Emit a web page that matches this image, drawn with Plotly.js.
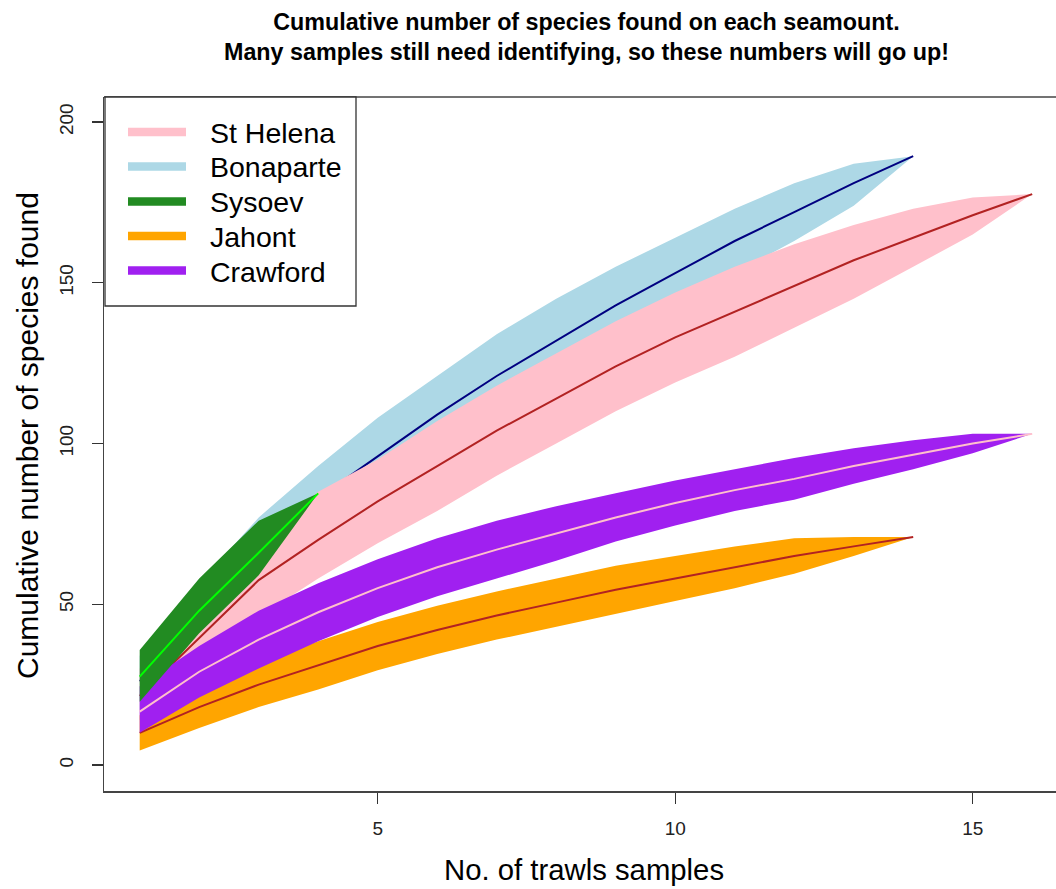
<!DOCTYPE html>
<html>
<head>
<meta charset="utf-8">
<script src="https://cdn.plot.ly/plotly-3.0.1.min.js"></script>
<style>html,body{margin:0;padding:0;background:#fff;}#chart{width:1056px;height:889px;}</style>
</head>
<body>
<div id="chart"></div>
<script>
// ---- data ----
const seamounts = ["St Helena", "Bonaparte", "Sysoev", "Jahont", "Crawford"];

const shX     = [1,2,3,4,5,6,7,8,9,10,11,12,13,14,15,16];
const shMean  = [21.5, 39.5, 57.5, 70, 82, 93, 104, 114, 124, 133, 141, 149, 157, 164, 171, 177.6];
const shUpper = [30, 50, 69, 85, 95, 107, 118, 128, 138, 147, 155, 162, 168, 173, 176.5, 177.6];
const shLower = [14, 30, 46, 58, 69, 79, 90, 100, 110, 119, 127, 136, 145, 155, 165, 177.6];

const boX     = [1,2,3,4,5,6,7,8,9,10,11,12,13,14];
const boMean  = [26, 50, 68, 83, 96, 109, 121, 132, 143, 153, 163, 172, 181, 189.4];
const boUpper = [34, 56.5, 77, 93, 108, 121, 134, 145, 155, 164, 173, 181, 187, 189.4];
const boLower = [17, 40, 58, 73, 84, 97, 108, 119, 131, 142, 153, 163, 174, 189.4];

const syX     = [1,2,3,4];
const syMean  = [27.5, 48, 66, 84.5];
const syUpper = [35.8, 58, 76, 84.5];
const syLower = [19.7, 41, 59, 84.5];

const jaX     = [1,2,3,4,5,6,7,8,9,10,11,12,13,14];
const jaMean  = [10, 18, 25, 31, 37, 42, 46.5, 50.5, 54.5, 58, 61.5, 65, 68, 70.9];
const jaUpper = [15.5, 24.5, 32, 38.5, 44.5, 49.5, 54, 58, 62, 65, 68, 70.5, 70.9, 70.9];
const jaLower = [4.5, 11.5, 18, 23.5, 29.5, 34.5, 39, 43, 47, 51, 55, 59.5, 65, 70.9];

const crX     = [1,2,3,4,5,6,7,8,9,10,11,12,13,14,15,16];
const crMean  = [16.6, 29, 39, 47.5, 55, 61.5, 67, 72, 77, 81.5, 85.5, 89, 93, 96.5, 100, 103];
const crUpper = [24.5, 37, 48, 56.5, 64, 70.5, 76, 80.5, 84.5, 88.5, 92, 95.5, 98.5, 101, 103, 103];
const crLower = [10, 21, 30, 38.5, 46, 52.5, 58, 63.5, 69.5, 74.5, 79, 82.5, 87.5, 92, 97, 103];

const xTicks = [5, 10, 15];
const yTicks = [0, 50, 100, 150, 200];

const titleText = "Cumulative number of species found on each seamount.<br>Many samples still need identifying, so these numbers will go up!";
const xTitle = "No. of trawls samples";
const yTitle = "Cumulative number of species found";

// ---- styles ----
const bandColors = {"St Helena":"#FFC0CB","Bonaparte":"#ADD8E6","Sysoev":"#228B22","Jahont":"#FFA500","Crawford":"#A020F0"};
const lineColors = {"St Helena":"#B22222","Bonaparte":"#000080","Sysoev":"#00FF00","Jahont":"#B22222","Crawford":"#FFC0CB"};

const series = {
  "St Helena": {x: shX, m: shMean, u: shUpper, l: shLower},
  "Bonaparte": {x: boX, m: boMean, u: boUpper, l: boLower},
  "Sysoev":    {x: syX, m: syMean, u: syUpper, l: syLower},
  "Jahont":    {x: jaX, m: jaMean, u: jaUpper, l: jaLower},
  "Crawford":  {x: crX, m: crMean, u: crUpper, l: crLower}
};
const drawOrder = ["Bonaparte", "St Helena", "Jahont", "Crawford", "Sysoev"];

const traces = [];
drawOrder.forEach(name => {
  const s = series[name];
  traces.push({
    type: "scatter", mode: "lines", name: name + " band",
    x: s.x.concat(s.x.slice().reverse()),
    y: s.u.concat(s.l.slice().reverse()),
    fill: "toself", fillcolor: bandColors[name],
    line: {width: 0, color: bandColors[name]},
    hoverinfo: "skip", showlegend: false
  });
  traces.push({
    type: "scatter", mode: "lines", name: name,
    x: s.x, y: s.m,
    line: {width: 2, color: lineColors[name]},
    showlegend: false
  });
});

// ---- layout geometry (pixels) ----
const W = 1056, H = 889;
const mL = 104, mR = 0, mT = 97, mB = 98;
const pw = W - mL - mR, ph = H - mT - mB;
const px = v => (v - mL) / pw;
const py = v => (H - mB - v) / ph;

const FONT = "Liberation Sans, Arial, Helvetica, sans-serif";

const shapes = [
  {type: "line", xref: "paper", yref: "paper", x0: 0, x1: 1, y0: 1, y1: 1, line: {color: "#444", width: 1.3}},
  {type: "rect", xref: "paper", yref: "paper", x0: px(105), x1: px(356), y0: py(306), y1: py(97),
   line: {color: "#333", width: 1.3}, fillcolor: "rgba(255,255,255,1)", layer: "above"}
];
const annotations = [
  {text: titleText, xref: "paper", yref: "paper", x: px(586), y: py(36.5), xanchor: "center", yanchor: "middle",
   showarrow: false, font: {family: FONT, size: 23.3, color: "#000", weight: "bold"}},
  {text: xTitle, xref: "paper", yref: "paper", x: px(584), y: py(870), xanchor: "center", yanchor: "middle",
   showarrow: false, font: {family: FONT, size: 29.3, color: "#000"}},
  {text: yTitle, xref: "paper", yref: "paper", x: px(27), y: py(436), xanchor: "center", yanchor: "middle",
   textangle: -90, showarrow: false, font: {family: FONT, size: 30, color: "#000"}}
];
const legendY = [132, 166.5, 201.5, 236, 270.5];
seamounts.forEach((name, i) => {
  shapes.push({type: "line", xref: "paper", yref: "paper", x0: px(128), x1: px(186), y0: py(legendY[i]), y1: py(legendY[i]),
    line: {color: bandColors[name], width: 8.5}, layer: "above"});
  annotations.push({text: name, xref: "paper", yref: "paper", x: px(208), y: py(legendY[i] + 1), xanchor: "left", yanchor: "middle",
    showarrow: false, font: {family: FONT, size: 28.5, color: "#000"}});
});

const layout = {
  width: W, height: H,
  margin: {l: mL, r: mR, t: mT, b: mB, pad: 0},
  paper_bgcolor: "#fff", plot_bgcolor: "#fff",
  showlegend: false,
  xaxis: {range: [0.4, 16.4], tickvals: xTicks, ticktext: xTicks.map(String), ticks: "outside", ticklen: 11,
    tickcolor: "#333", tickwidth: 1.3, showline: true, linecolor: "#444", linewidth: 1.5, showgrid: false, zeroline: false,
    ticklabelstandoff: 9, tickfont: {family: FONT, size: 19, color: "#222"}},
  yaxis: {range: [-8.1, 207.8], tickvals: yTicks, ticktext: yTicks.map(String), ticks: "outside", ticklen: 11,
    tickcolor: "#333", tickwidth: 1.3, showline: true, linecolor: "#444", linewidth: 1.5, showgrid: false, zeroline: false,
    tickangle: -90, ticklabelstandoff: 11, tickfont: {family: FONT, size: 19, color: "#222"}},
  shapes: shapes,
  annotations: annotations
};

Plotly.newPlot("chart", traces, layout, {staticPlot: true, displayModeBar: false});
</script>
</body>
</html>
